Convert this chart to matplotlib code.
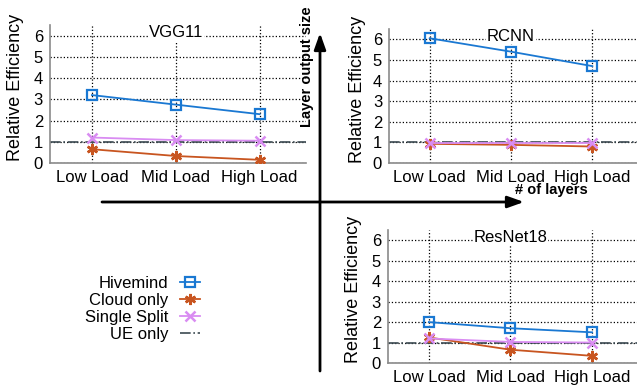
import matplotlib.pyplot as plt

plt.rcParams['font.family'] = ['Liberation Sans', 'DejaVu Sans']

loads = ['Low Load', 'Mid Load', 'High Load']
series = ['Hivemind', 'Cloud only', 'Single Split', 'UE only']

vgg_hive = [3.2, 2.75, 2.3]
vgg_cloud = [0.65, 0.33, 0.15]
vgg_split = [1.2, 1.08, 1.05]

rcnn_hive = [6.05, 5.4, 4.7]
rcnn_cloud = [0.93, 0.88, 0.8]
rcnn_split = [0.97, 0.97, 0.97]

res_hive = [2.0, 1.7, 1.5]
res_cloud = [1.25, 0.65, 0.35]
res_split = [1.2, 1.03, 1.0]

ue_only = 1.0

c_hive = '#1a78d2'
c_cloud = '#c85520'
c_split = '#d98cf2'
c_ue = '#3c4a52'

fig = plt.figure(figsize=(6.37, 3.85), dpi=100)

def panel(rect, title, hive, cloud, split, label_x):
    ax = fig.add_axes(rect)
    x = range(len(loads))
    ax.plot(x, hive, color=c_hive, lw=1.3, marker='s', ms=6.5, mfc='none',
            mec=c_hive, mew=1.6, label=series[0], zorder=4)
    ax.plot(x, cloud, color=c_cloud, lw=1.3, marker=(6, 2, 0), ms=8,
            mew=1.8, label=series[1], zorder=3)
    ax.plot(x, split, color=c_split, lw=1.3, marker='x', ms=7, mew=1.8,
            label=series[2], zorder=3)
    ax.axhline(ue_only, color=c_ue, lw=1.2, ls='-.', label=series[3], zorder=2)
    ax.set_xlim(-0.5, 2.55)
    ax.set_ylim(0, 6.5)
    ax.set_xticks(list(x))
    ax.set_xticklabels(loads)
    ax.set_yticks(range(0, 7))
    ax.tick_params(length=0, labelsize=12, pad=5)
    ax.grid(True, color='black', ls=':', lw=0.9)
    for s in ['top', 'right']:
        ax.spines[s].set_visible(False)
    for s in ['left', 'bottom']:
        ax.spines[s].set_color('#8a8a8a')
        ax.spines[s].set_linewidth(1.2)
    ax.set_ylabel('Relative Efficiency', fontsize=13)
    ax.yaxis.set_label_coords(label_x, 0.55)
    ax.text(1, 6.15, title, ha='center', va='center', fontsize=12,
            bbox=dict(facecolor='white', edgecolor='none', pad=0.5), zorder=5)
    return ax

ax1 = panel([0.0785, 0.5766, 0.4015, 0.3584], 'VGG11', vgg_hive, vgg_cloud, vgg_split, -0.10)
ax2 = panel([0.6107, 0.5766, 0.3893, 0.3481], 'RCNN', rcnn_hive, rcnn_cloud, rcnn_split, -0.093)
ax3 = panel([0.6091, 0.0571, 0.3909, 0.3455], 'ResNet18', res_hive, res_cloud, res_split, -0.104)

handles, labels = ax1.get_legend_handles_labels()
fig.legend(handles, labels, loc='upper right', bbox_to_anchor=(0.314, 0.283),
           frameon=False, markerfirst=False, fontsize=12, handlelength=1.2,
           handletextpad=0.7, labelspacing=0.12, borderpad=0, borderaxespad=0)

# axis arrows
arrow = dict(arrowstyle='-|>,head_length=0.7,head_width=0.25', color='black',
             lw=2, mutation_scale=14, shrinkA=0, shrinkB=0)
fig.add_artist(plt.Annotation('', xy=(524 / 637, 1 - 202 / 385), xytext=(102 / 637, 1 - 202 / 385),
                              xycoords='figure fraction', arrowprops=arrow))
fig.add_artist(plt.Annotation('', xy=(320 / 637, 1 - 33 / 385), xytext=(320 / 637, 1 - 371 / 385),
                              xycoords='figure fraction', arrowprops=arrow))
fig.text(307 / 637, 1 - 67 / 385, 'Layer output size', rotation=90, ha='center',
         va='center', fontsize=10.5, fontweight='bold')
fig.text(551 / 637, 1 - 190 / 385, '# of layers', ha='center', va='center',
         fontsize=10.5, fontweight='bold')

fig.savefig('out.png', dpi=100)
